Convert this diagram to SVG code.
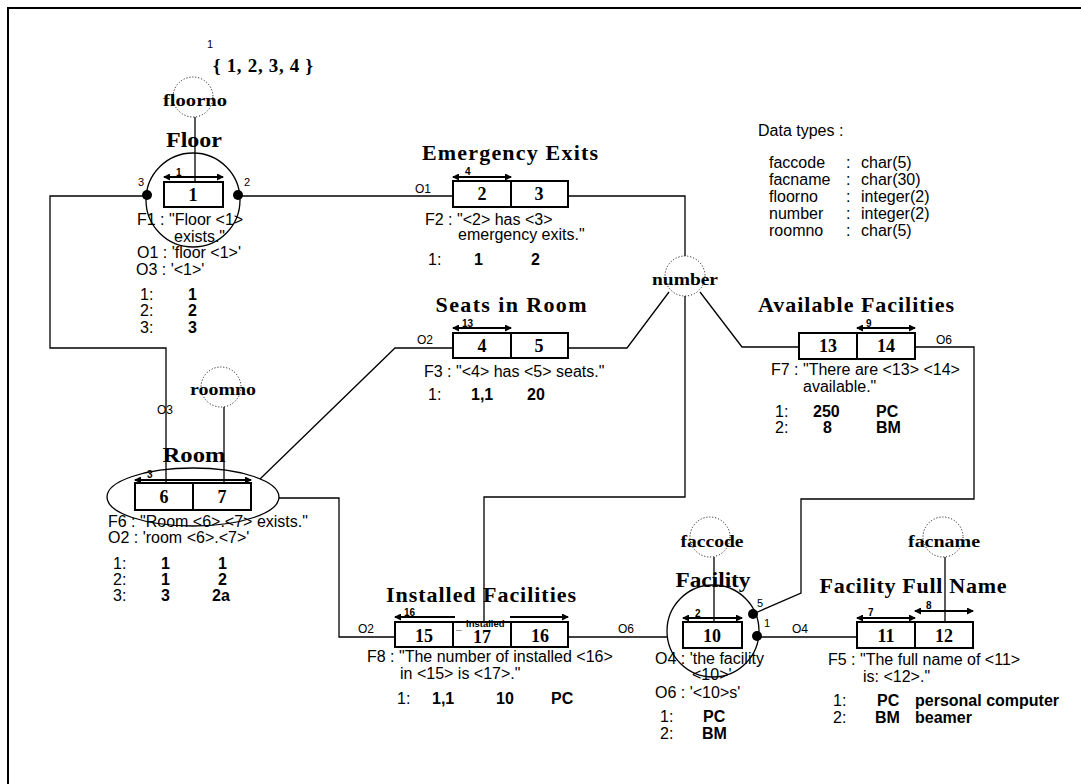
<svg xmlns="http://www.w3.org/2000/svg" width="1081" height="784" viewBox="0 0 1081 784">
<style>
.frame{fill:none;stroke:#000;stroke-width:2}
.box{fill:#fff;stroke:#000;stroke-width:2}
.conn{fill:none;stroke:#000;stroke-width:1.3}
.ring{fill:none;stroke:#000;stroke-width:1.3}
.vt{fill:none;stroke:#000;stroke-width:1;stroke-dasharray:1 2}
.arr{stroke:#000;stroke-width:2}
.title{font-family:"Liberation Serif","Times New Roman",serif;font-weight:bold;font-size:22px;text-anchor:middle}
.vtl{font-family:"Liberation Serif","Times New Roman",serif;font-weight:bold;font-size:17px;text-anchor:middle}
.cell{font-family:"Liberation Serif","Times New Roman",serif;font-weight:bold;font-size:18px;text-anchor:middle}
.txt{font-family:"Liberation Sans",Arial,sans-serif;font-size:16px}
.val{font-family:"Liberation Sans",Arial,sans-serif;font-size:16px;font-weight:bold}
.lbl{font-family:"Liberation Sans",Arial,sans-serif;font-size:12px}
.sm{font-family:"Liberation Sans",Arial,sans-serif;font-size:10px;font-weight:bold}
.dl{font-family:"Liberation Sans",Arial,sans-serif;font-size:11px}
</style>
<defs>
<marker id="ah" viewBox="0 0 7 7" refX="6" refY="3.5" markerWidth="7" markerHeight="7" markerUnits="userSpaceOnUse" orient="auto-start-reverse">
<path d="M0,0 L7,3.5 L0,7 z" fill="#000"/>
</marker>
</defs>
<rect width="1081" height="784" fill="#fff"/>
<path class="frame" d="M8,790 V8 H1090"/>

<g id="connectors">
<path class="conn" d="M147,196 H50 V348 H166 V483"/>
<path class="conn" d="M238,196 H453"/>
<path class="conn" d="M195,117 V182"/>
<path class="conn" d="M224,407 V483"/>
<path class="conn" d="M260,479 L395,348 H453"/>
<path class="conn" d="M279,498 H339 V637 H395"/>
<path class="conn" d="M568,196 H685 V256"/>
<path class="conn" d="M685,296 V497 H484 V622"/>
<path class="conn" d="M669,292 L627,348 H568"/>
<path class="conn" d="M700,292 L742,347 H799"/>
<path class="conn" d="M915,347 H974 V499 H801 V593 L753,614"/>
<path class="conn" d="M568,637 H667"/>
<path class="conn" d="M757,637 H857"/>
<path class="conn" d="M714,557 V622"/>
<path class="conn" d="M945,557 V622"/>
<text class="lbl" x="415" y="193">O1</text>
<text class="lbl" x="417" y="344">O2</text>
<text class="lbl" x="936" y="344">O6</text>
<text class="lbl" x="157" y="414">O3</text>
<text class="lbl" x="358" y="633">O2</text>
<text class="lbl" x="618" y="633">O6</text>
<text class="lbl" x="792" y="633">O4</text>
</g>

<g id="vt-floorno">
<circle class="vt" cx="193" cy="97" r="20"/>
<text class="vtl" x="195" y="106" textLength="64" lengthAdjust="spacingAndGlyphs">floorno</text>
</g>
<g id="vt-roomno">
<circle class="vt" cx="221" cy="387" r="20"/>
<text class="vtl" x="223" y="395" textLength="66" lengthAdjust="spacingAndGlyphs">roomno</text>
</g>
<g id="vt-number">
<circle class="vt" cx="685" cy="276" r="20"/>
<text class="vtl" x="685" y="285" textLength="66" lengthAdjust="spacingAndGlyphs">number</text>
</g>
<g id="vt-faccode">
<circle class="vt" cx="710" cy="537" r="20"/>
<text class="vtl" x="712" y="547" textLength="63" lengthAdjust="spacingAndGlyphs">faccode</text>
</g>
<g id="vt-facname">
<circle class="vt" cx="943" cy="537" r="20"/>
<text class="vtl" x="944" y="547" textLength="72" lengthAdjust="spacingAndGlyphs">facname</text>
</g>

<g id="node-floor">
<text class="dl" x="207" y="48">1</text>
<text class="title" x="263" y="72" style="font-size:19px" textLength="100" lengthAdjust="spacing">{ 1, 2, 3, 4 }</text>
<text class="title" x="194" y="147" textLength="56" lengthAdjust="spacingAndGlyphs">Floor</text>
<circle class="ring" cx="193" cy="200" r="47"/>
<line class="arr" x1="164" y1="177" x2="223" y2="177" marker-start="url(#ah)" marker-end="url(#ah)"/>
<text class="sm" x="176" y="176">1</text>
<rect class="box" x="164" y="182" width="59" height="25"/>
<text class="cell" x="193" y="201">1</text>
<circle cx="147" cy="195" r="5"/>
<circle cx="238" cy="195" r="5"/>
<text class="dl" x="138" y="186">3</text>
<text class="dl" x="244" y="186">2</text>
<text class="txt" x="137" y="225">F1 : "Floor &lt;1&gt;</text>
<text class="txt" x="174" y="242">exists."</text>
<text class="txt" x="137" y="258">O1 : 'floor &lt;1&gt;'</text>
<text class="txt" x="136" y="275">O3 : '&lt;1&gt;'</text>
<text class="txt" x="140" y="300">1:</text><text class="val" x="188" y="300">1</text>
<text class="txt" x="140" y="316">2:</text><text class="val" x="188" y="316">2</text>
<text class="txt" x="140" y="333">3:</text><text class="val" x="188" y="333">3</text>
</g>

<g id="node-emergency">
<text class="title" x="510" y="160" textLength="176" lengthAdjust="spacing">Emergency Exits</text>
<line class="arr" x1="453" y1="177" x2="511" y2="177" marker-start="url(#ah)" marker-end="url(#ah)"/>
<text class="sm" x="465" y="175">4</text>
<rect class="box" x="453" y="181" width="115" height="26"/>
<line class="arr" x1="511" y1="181" x2="511" y2="207"/>
<text class="cell" x="482" y="200">2</text>
<text class="cell" x="539" y="200">3</text>
<text class="txt" x="425" y="225">F2 : "&lt;2&gt; has &lt;3&gt;</text>
<text class="txt" x="458" y="240">emergency exits."</text>
<text class="txt" x="428" y="265">1:</text><text class="val" x="474" y="265">1</text><text class="val" x="531" y="265">2</text>
</g>

<g id="node-seats">
<text class="title" x="511" y="312" textLength="151" lengthAdjust="spacing">Seats in Room</text>
<line class="arr" x1="453" y1="328" x2="511" y2="328" marker-start="url(#ah)" marker-end="url(#ah)"/>
<text class="sm" x="462" y="327">13</text>
<rect class="box" x="453" y="333" width="115" height="25"/>
<line class="arr" x1="511" y1="333" x2="511" y2="358"/>
<text class="cell" x="482" y="352">4</text>
<text class="cell" x="539" y="352">5</text>
<text class="txt" x="424" y="377">F3 : "&lt;4&gt; has &lt;5&gt; seats."</text>
<text class="txt" x="428" y="400">1:</text><text class="val" x="471" y="400">1,1</text><text class="val" x="527" y="400">20</text>
</g>

<g id="node-available">
<text class="title" x="856" y="312" textLength="196" lengthAdjust="spacing">Available Facilities</text>
<line class="arr" x1="857" y1="328" x2="915" y2="328" marker-start="url(#ah)" marker-end="url(#ah)"/>
<text class="sm" x="866" y="327">9</text>
<rect class="box" x="799" y="333" width="116" height="26"/>
<line class="arr" x1="857" y1="333" x2="857" y2="359"/>
<text class="cell" x="828" y="352">13</text>
<text class="cell" x="886" y="352">14</text>
<text class="txt" x="771" y="375">F7 : "There are &lt;13&gt; &lt;14&gt;</text>
<text class="txt" x="803" y="392">available."</text>
<text class="txt" x="775" y="417">1:</text><text class="val" x="813" y="417">250</text><text class="val" x="876" y="417">PC</text>
<text class="txt" x="775" y="433">2:</text><text class="val" x="823" y="433">8</text><text class="val" x="876" y="433">BM</text>
</g>

<g id="datatypes">
<text class="txt" x="758" y="136">Data types :</text>
<text class="txt" x="769" y="168">faccode</text><text class="txt" x="846" y="168">:</text><text class="txt" x="861" y="168">char(5)</text>
<text class="txt" x="769" y="185">facname</text><text class="txt" x="846" y="185">:</text><text class="txt" x="861" y="185">char(30)</text>
<text class="txt" x="769" y="202">floorno</text><text class="txt" x="846" y="202">:</text><text class="txt" x="861" y="202">integer(2)</text>
<text class="txt" x="769" y="219">number</text><text class="txt" x="846" y="219">:</text><text class="txt" x="861" y="219">integer(2)</text>
<text class="txt" x="769" y="236">roomno</text><text class="txt" x="846" y="236">:</text><text class="txt" x="861" y="236">char(5)</text>
</g>

<g id="node-room">
<text class="title" x="194" y="462" textLength="63" lengthAdjust="spacingAndGlyphs">Room</text>
<ellipse class="ring" cx="193" cy="497" rx="86" ry="29"/>
<line class="arr" x1="135" y1="480" x2="251" y2="480" marker-start="url(#ah)" marker-end="url(#ah)"/>
<text class="sm" x="147" y="478">3</text>
<rect class="box" x="135" y="483" width="116" height="27"/>
<line class="arr" x1="193" y1="483" x2="193" y2="510"/>
<text class="cell" x="164" y="503">6</text>
<text class="cell" x="222" y="503">7</text>
<text class="txt" x="108" y="527">F6 : "Room &lt;6&gt;.&lt;7&gt; exists."</text>
<text class="txt" x="108" y="543">O2 : 'room &lt;6&gt;.&lt;7&gt;'</text>
<text class="txt" x="113" y="569">1:</text><text class="val" x="161" y="569">1</text><text class="val" x="218" y="569">1</text>
<text class="txt" x="113" y="585">2:</text><text class="val" x="161" y="585">1</text><text class="val" x="218" y="585">2</text>
<text class="txt" x="113" y="601">3:</text><text class="val" x="161" y="601">3</text><text class="val" x="212" y="601">2a</text>
</g>

<g id="node-installed">
<text class="title" x="481" y="602" textLength="190" lengthAdjust="spacing">Installed Facilities</text>
<line class="arr" x1="395" y1="617" x2="455" y2="617" marker-start="url(#ah)"/>
<line class="arr" x1="510" y1="617" x2="568" y2="617" marker-end="url(#ah)"/>
<text class="sm" x="404" y="616">16</text>
<rect class="box" x="395" y="622" width="173" height="25"/>
<line class="arr" x1="453" y1="622" x2="453" y2="647"/>
<line class="arr" x1="511" y1="622" x2="511" y2="647"/>
<text class="cell" x="424" y="642">15</text>
<text class="cell" x="482" y="643">17</text>
<text class="cell" x="540" y="642">16</text>
<text class="sm" x="456" y="629">_</text>
<text class="sm" x="466" y="627" style="font-size:9.5px">installed</text>
<text class="txt" x="367" y="662">F8 : "The number of installed &lt;16&gt;</text>
<text class="txt" x="400" y="679">in &lt;15&gt; is &lt;17&gt;."</text>
<text class="txt" x="397" y="704">1:</text><text class="val" x="432" y="704">1,1</text><text class="val" x="496" y="704">10</text><text class="val" x="551" y="704">PC</text>
</g>

<g id="node-facility">
<text class="title" x="713" y="587" textLength="75" lengthAdjust="spacingAndGlyphs">Facility</text>
<circle class="ring" cx="713" cy="631" r="46"/>
<line class="arr" x1="683" y1="618" x2="742" y2="618" marker-start="url(#ah)" marker-end="url(#ah)"/>
<text class="sm" x="695" y="617">2</text>
<rect class="box" x="683" y="622" width="59" height="26"/>
<text class="cell" x="712" y="642">10</text>
<circle cx="753" cy="614" r="5"/>
<circle cx="757" cy="636" r="5"/>
<text class="dl" x="757" y="607">5</text>
<text class="dl" x="764" y="627">1</text>
<text class="txt" x="655" y="664">O4 : 'the facility</text>
<text class="txt" x="692" y="680">&lt;10&gt;'</text>
<text class="txt" x="655" y="698">O6 : '&lt;10&gt;s'</text>
<text class="txt" x="660" y="722">1:</text><text class="val" x="703" y="722">PC</text>
<text class="txt" x="660" y="739">2:</text><text class="val" x="702" y="739">BM</text>
</g>

<g id="node-ffn">
<text class="title" x="913" y="593" textLength="187" lengthAdjust="spacing">Facility Full Name</text>
<line class="arr" x1="857" y1="618" x2="915" y2="618" marker-start="url(#ah)" marker-end="url(#ah)"/>
<text class="sm" x="868" y="616">7</text>
<line class="arr" x1="915" y1="611" x2="973" y2="611" marker-start="url(#ah)" marker-end="url(#ah)"/>
<text class="sm" x="926" y="609">8</text>
<rect class="box" x="857" y="622" width="116" height="26"/>
<line class="arr" x1="915" y1="622" x2="915" y2="648"/>
<text class="cell" x="886" y="642">11</text>
<text class="cell" x="944" y="642">12</text>
<text class="txt" x="828" y="665">F5 : "The full name of &lt;11&gt;</text>
<text class="txt" x="863" y="682">is: &lt;12&gt;."</text>
<text class="txt" x="833" y="706">1:</text><text class="val" x="877" y="706">PC</text><text class="val" x="915" y="706">personal computer</text>
<text class="txt" x="833" y="723">2:</text><text class="val" x="875" y="723">BM</text><text class="val" x="915" y="723">beamer</text>
</g>
</svg>
